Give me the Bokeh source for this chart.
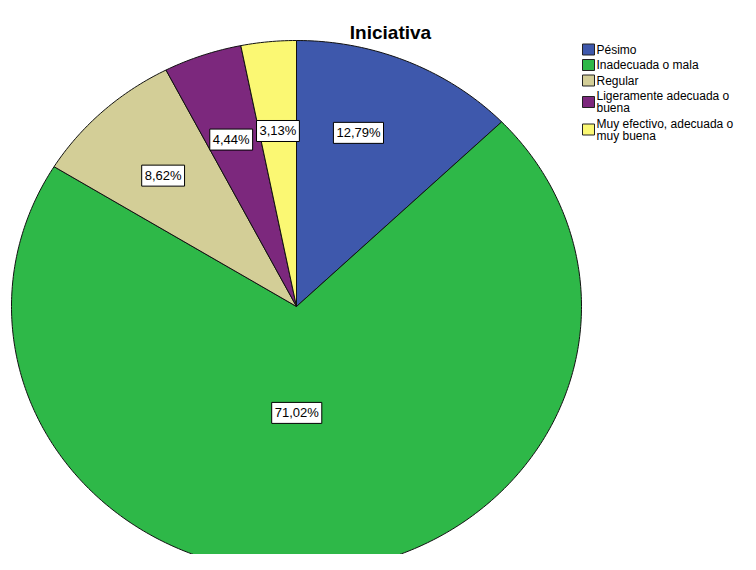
import textwrap
import numpy as np
from bokeh.plotting import figure
from bokeh.models import Range1d, ColumnDataSource, Label
from bokeh.core.properties import value
from bokeh.embed import file_html
from bokeh.resources import INLINE

# ---------------- data ----------------
title = "Iniciativa"
categories = ["Pésimo", "Inadecuada o mala", "Regular",
              "Ligeramente adecuada o buena", "Muy efectivo, adecuada o muy buena"]
percentages = [12.79, 71.02, 8.62, 4.44, 3.13]
colors = ["#3E58AC", "#2EB848", "#D3CE97", "#7C287D", "#FBF873"]

# ---------------- layout constants (picture pixels) ----------------
W, H = 740, 554
CX, CY = 296, 306          # pie centre
RX, RY = 285, 266          # pie radii (stretched pie)
LABEL_ANGLE_SHIFT = [-4.6, 6.0, -0.8, -0.8, 0.0]   # degrees, label tweak vs mid-angle
LABEL_RADIUS = [0.688, 0.40, 0.679, 0.668, 0.663]
FONT = "Liberation Sans"

p = figure(width=W, height=H, output_backend="svg", toolbar_location=None,
           x_range=Range1d(0, W), y_range=Range1d(H, 0),
           min_border=0, outline_line_color=None, background_fill_color="white",
           border_fill_color="white")
p.axis.visible = False
p.grid.visible = False

# slices (clockwise from 12 o'clock)
total = sum(percentages)
fracs = np.array(percentages) / total
ends = np.cumsum(fracs) * 2 * np.pi
starts = ends - fracs * 2 * np.pi
xs, ys = [], []
for a0, a1 in zip(starts, ends):
    t = np.linspace(a0, a1, max(8, int((a1 - a0) * 80)))
    xs.append([CX] + list(CX + RX * np.sin(t)) + [CX])
    ys.append([CY] + list(CY - RY * np.cos(t)) + [CY])
p.patches(xs=xs, ys=ys, fill_color=colors, line_color="#111111", line_width=1)

# percentage labels
mids = (starts + ends) / 2 + np.radians(LABEL_ANGLE_SHIFT)
lx = CX + RX * np.array(LABEL_RADIUS) * np.sin(mids)
ly = CY - RY * np.array(LABEL_RADIUS) * np.cos(mids)
texts = [f"{v:.2f}".replace(".", ",") + "%" for v in percentages]
src = ColumnDataSource(dict(x=lx, y=ly, t=texts))
p.text(x="x", y="y", text="t", source=src,
       text_align="center", text_baseline="middle",
       text_font=value(FONT), text_font_size="13px", text_color="black",
       background_fill_color="white", border_line_color="black",
       border_line_width=1, padding=3)

# title
p.add_layout(Label(x=390, y=32, text=title, text_align="center",
                   text_baseline="alphabetic", text_font=FONT,
                   text_font_size="19px", text_font_style="bold", text_color="black"))

# legend (drawn manually, wrapped labels)
line_step, item_gap = 12, 3.5
y_line = 49
sq_x, sq_y, tx_x, ty_y, sq_c = [], [], [], [], []
tx_t = []
for cat, col in zip(categories, colors):
    lines = textwrap.wrap(cat, width=24)
    ys_item = [y_line + i * line_step for i in range(len(lines))]
    for yy, ln in zip(ys_item, lines):
        tx_x.append(596)
        ty_y.append(yy)
        tx_t.append(ln)
    sq_x.append(588)
    sq_y.append(sum(ys_item) / len(ys_item))
    sq_c.append(col)
    y_line = ys_item[-1] + line_step + item_gap
p.rect(x=sq_x, y=sq_y, width=12, height=11, fill_color=sq_c,
       line_color="#222222", line_width=1)
p.text(x=tx_x, y=ty_y, text=tx_t, text_font=value(FONT), text_font_size="12px",
       text_baseline="middle", text_align="left", text_color="black")

open("out.html", "w").write(file_html(p, INLINE))
